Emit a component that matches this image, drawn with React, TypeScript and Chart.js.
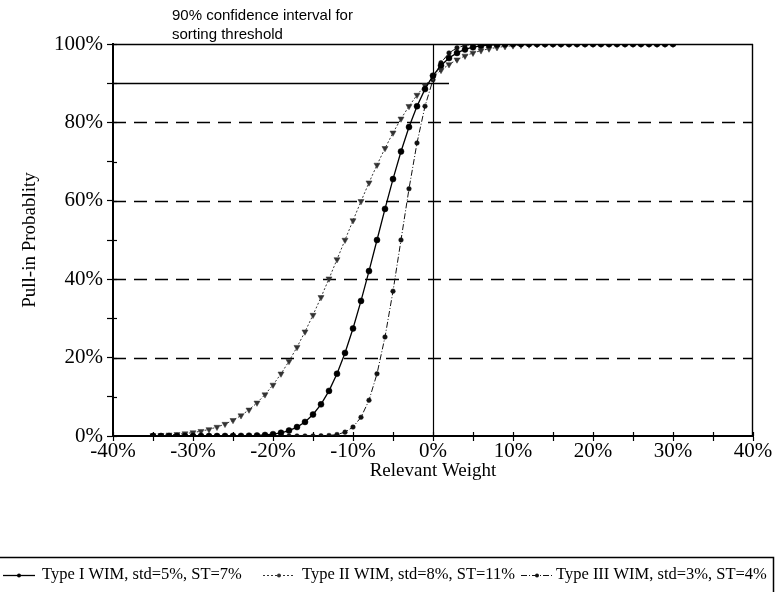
import React, { useEffect, useRef } from 'react';
import { Chart, registerables } from 'chart.js';

Chart.register(...registerables);

// Relevant weight (%) at each marker
const weights = [
  -35, -34, -33, -32, -31, -30, -29, -28, -27, -26,
  -25, -24, -23, -22, -21, -20, -19, -18, -17, -16,
  -15, -14, -13, -12, -11, -10, -9, -8, -7, -6,
  -5, -4, -3, -2, -1, 0, 1, 2, 3, 4,
  5, 6, 7, 8, 9, 10, 11, 12, 13, 14,
  15, 16, 17, 18, 19, 20, 21, 22, 23, 24,
  25, 26, 27, 28, 29, 30,
];

// Pull-in probability (%)
const typeI = [
  0, 0, 0, 0, 0, 0, 0, 0, 0, 0.01,
  0.02, 0.03, 0.07, 0.13, 0.26, 0.47, 0.82, 1.39, 2.28, 3.59,
  5.48, 8.08, 11.51, 15.87, 21.19, 27.43, 34.46, 42.07, 50, 57.93,
  65.54, 72.57, 78.81, 84.13, 88.49, 91.92, 94.52, 96.41, 97.72, 98.61,
  99.18, 99.53, 99.74, 99.87, 99.93, 99.97, 100, 100, 100, 100,
  100, 100, 100, 100, 100, 100, 100, 100, 100, 100,
  100, 100, 100, 100, 100, 100,
];

const typeII = [
  0.13, 0.2, 0.3, 0.43, 0.62, 0.88, 1.22, 1.68, 2.28, 3.04,
  4.01, 5.21, 6.68, 8.46, 10.56, 13.03, 15.87, 19.08, 22.66, 26.6,
  30.85, 35.38, 40.13, 45.03, 50, 54.97, 59.87, 64.62, 69.15, 73.4,
  77.34, 80.92, 84.13, 86.97, 89.44, 91.54, 93.32, 94.79, 95.99, 96.96,
  97.72, 98.32, 98.78, 99.12, 99.38, 99.57, 99.7, 99.8, 99.87, 99.91,
  99.94, 99.96, 99.98, 99.98, 99.99, 99.99, 100, 100, 100, 100,
  100, 100, 100, 100, 100, 100,
];

const typeIII = [
  0, 0, 0, 0, 0, 0, 0, 0, 0, 0,
  0, 0, 0, 0, 0, 0, 0, 0, 0, 0,
  0.01, 0.04, 0.13, 0.38, 0.98, 2.28, 4.78, 9.12, 15.87, 25.25,
  36.94, 50, 63.06, 74.75, 84.13, 90.88, 95.22, 97.72, 99.02, 99.62,
  99.87, 99.96, 99.99, 100, 100, 100, 100, 100, 100, 100,
  100, 100, 100, 100, 100, 100, 100, 100, 100, 100,
  100, 100, 100, 100, 100, 100,
];

const seriesLabels = [
  'Type I WIM, std=5%, ST=7%',
  'Type II WIM, std=8%, ST=11%',
  'Type III WIM, std=3%, ST=4%',
];

const dashedGridLevels = [20, 40, 60, 80];
const thresholdLevel = 90;
const thresholdLineEnd = 2;
const annotationLines = ['90% confidence interval for', 'sorting threshold'];
const xTitle = 'Relevant Weight';
const yTitle = 'Pull-in Probablity';

const SERIF = '"Liberation Serif", "Times New Roman", serif';
const SANS = '"Liberation Sans", Arial, sans-serif';

const seriesStyles = [
  { color: '#000', width: 1.3, dash: [] as number[], point: 'circle', radius: 3, rotation: 0 },
  { color: '#333', width: 1, dash: [2, 2], point: 'triangle', radius: 3.5, rotation: 180 },
  { color: '#111', width: 1, dash: [6, 2, 1, 2], point: 'circle', radius: 2.3, rotation: 0 },
];

const legendLayout = [
  { sx: 3, tx: 42 },
  { sx: 263, tx: 302 },
  { sx: 521, tx: 556 },
];

const decorPlugin = {
  id: 'decor',
  beforeDatasetsDraw(chart: any) {
    const { ctx, chartArea: a, scales } = chart;
    const x = scales.x;
    const y = scales.y;
    const seg = (x1: number, y1: number, x2: number, y2: number) => {
      ctx.beginPath();
      ctx.moveTo(x1, y1);
      ctx.lineTo(x2, y2);
      ctx.stroke();
    };
    ctx.save();
    ctx.strokeStyle = '#000';
    ctx.lineWidth = 1.4;
    ctx.setLineDash([13, 8]);
    for (const v of dashedGridLevels) {
      const py = Math.round(y.getPixelForValue(v)) + 0.5;
      seg(a.left, py, a.right, py);
    }
    ctx.setLineDash([]);
    // top and right borders
    const top = Math.round(y.getPixelForValue(100)) + 0.5;
    seg(a.left, top, a.right, top);
    const right = Math.round(x.getPixelForValue(40)) - 0.5;
    seg(right, a.top, right, a.bottom);
    // zero vertical line
    const zx = Math.round(x.getPixelForValue(0)) + 0.5;
    ctx.lineWidth = 1.2;
    seg(zx, a.top, zx, a.bottom);
    // threshold line
    const ty = Math.round(y.getPixelForValue(thresholdLevel)) + 0.5;
    ctx.lineWidth = 1.5;
    seg(a.left, ty, x.getPixelForValue(thresholdLineEnd), ty);
    // inner tick marks
    ctx.lineWidth = 1.2;
    x.ticks.forEach((t: any) => {
      const px = Math.round(x.getPixelForValue(t.value)) + 0.5;
      seg(px, a.bottom, px, a.bottom - 4);
    });
    y.ticks.forEach((t: any) => {
      const py = Math.round(y.getPixelForValue(t.value)) + 0.5;
      seg(a.left, py, a.left + 4, py);
    });
    ctx.restore();
  },
  afterDraw(chart: any) {
    const { ctx } = chart;
    ctx.save();
    ctx.fillStyle = '#000';
    ctx.textBaseline = 'alphabetic';
    ctx.textAlign = 'left';
    ctx.font = `15px ${SANS}`;
    ctx.fillText(annotationLines[0], 172, 20);
    ctx.fillText(annotationLines[1], 172, 39);

    // legend frame
    ctx.strokeStyle = '#000';
    ctx.lineWidth = 1.5;
    ctx.beginPath();
    ctx.moveTo(0, 557.5);
    ctx.lineTo(773.5, 557.5);
    ctx.lineTo(773.5, 592);
    ctx.stroke();

    ctx.font = `16.5px ${SERIF}`;
    seriesLabels.forEach((label, i) => {
      const st = seriesStyles[i];
      const { sx, tx } = legendLayout[i];
      const ly = 575.5;
      ctx.strokeStyle = st.color;
      ctx.lineWidth = st.width;
      ctx.setLineDash(st.dash);
      ctx.beginPath();
      ctx.moveTo(sx, ly);
      ctx.lineTo(sx + 32, ly);
      ctx.stroke();
      ctx.setLineDash([]);
      ctx.fillStyle = st.color;
      ctx.beginPath();
      ctx.arc(sx + 16, ly, 2, 0, Math.PI * 2);
      ctx.fill();
      ctx.fillStyle = '#000';
      ctx.fillText(label, tx, 579);
    });
    ctx.restore();
  },
};

export default function App() {
  const canvasRef = useRef<HTMLCanvasElement | null>(null);

  useEffect(() => {
    document.body.style.margin = '0';
    const canvas = canvasRef.current;
    if (!canvas) return;
    const series = [typeI, typeII, typeIII];
    const chart = new Chart(canvas, {
      type: 'line',
      data: {
        datasets: series.map((vals, i) => {
          const st = seriesStyles[i];
          return {
            label: seriesLabels[i],
            data: weights.map((w, k) => ({ x: w, y: vals[k] })),
            borderColor: st.color,
            backgroundColor: st.color,
            borderWidth: st.width,
            borderDash: st.dash,
            pointStyle: st.point as any,
            pointRadius: st.radius,
            pointRotation: st.rotation,
            pointBorderWidth: 0.5,
            pointBorderColor: st.color,
            pointBackgroundColor: st.color,
            tension: 0,
            fill: false,
          };
        }),
      },
      options: {
        responsive: false,
        animation: false,
        devicePixelRatio: 1,
        layout: { padding: { left: 0, top: 44, right: 23, bottom: 100 } },
        plugins: { legend: { display: false }, tooltip: { enabled: false } },
        scales: {
          x: {
            type: 'linear',
            min: -40,
            max: 40,
            afterFit: (s: any) => {
              s.height = 56;
            },
            ticks: {
              stepSize: 5,
              autoSkip: false,
              maxRotation: 0,
              padding: -2,
              color: '#000',
              font: { family: SERIF, size: 21 },
              callback: (v: any) => (Number(v) % 10 === 0 ? `${v}%` : ''),
            },
            grid: { drawOnChartArea: false, drawTicks: true, tickLength: 5, tickColor: '#000', tickWidth: 1.2 },
            border: { display: true, color: '#000', width: 2 },
            title: {
              display: true,
              text: xTitle,
              color: '#000',
              font: { family: SERIF, size: 19 },
              padding: { top: 0, bottom: 10 },
            },
          },
          y: {
            type: 'linear',
            min: 0,
            max: 100,
            afterFit: (s: any) => {
              s.width = 113;
            },
            ticks: {
              stepSize: 10,
              autoSkip: false,
              padding: 4,
              color: '#000',
              font: { family: SERIF, size: 21 },
              callback: (v: any) => (Number(v) % 20 === 0 ? `${v}%` : ''),
            },
            grid: { drawOnChartArea: false, drawTicks: true, tickLength: 6, tickColor: '#000', tickWidth: 1.2 },
            border: { display: true, color: '#000', width: 2 },
            title: {
              display: true,
              text: yTitle,
              color: '#000',
              font: { family: SERIF, size: 19 },
              padding: { top: 19, bottom: 0 },
            },
          },
        },
      },
      plugins: [decorPlugin],
    });
    return () => chart.destroy();
  }, []);

  return (
    <div style={{ width: 776, height: 592 }}>
      <canvas ref={canvasRef} width={776} height={592} style={{ display: 'block' }} />
    </div>
  );
}
